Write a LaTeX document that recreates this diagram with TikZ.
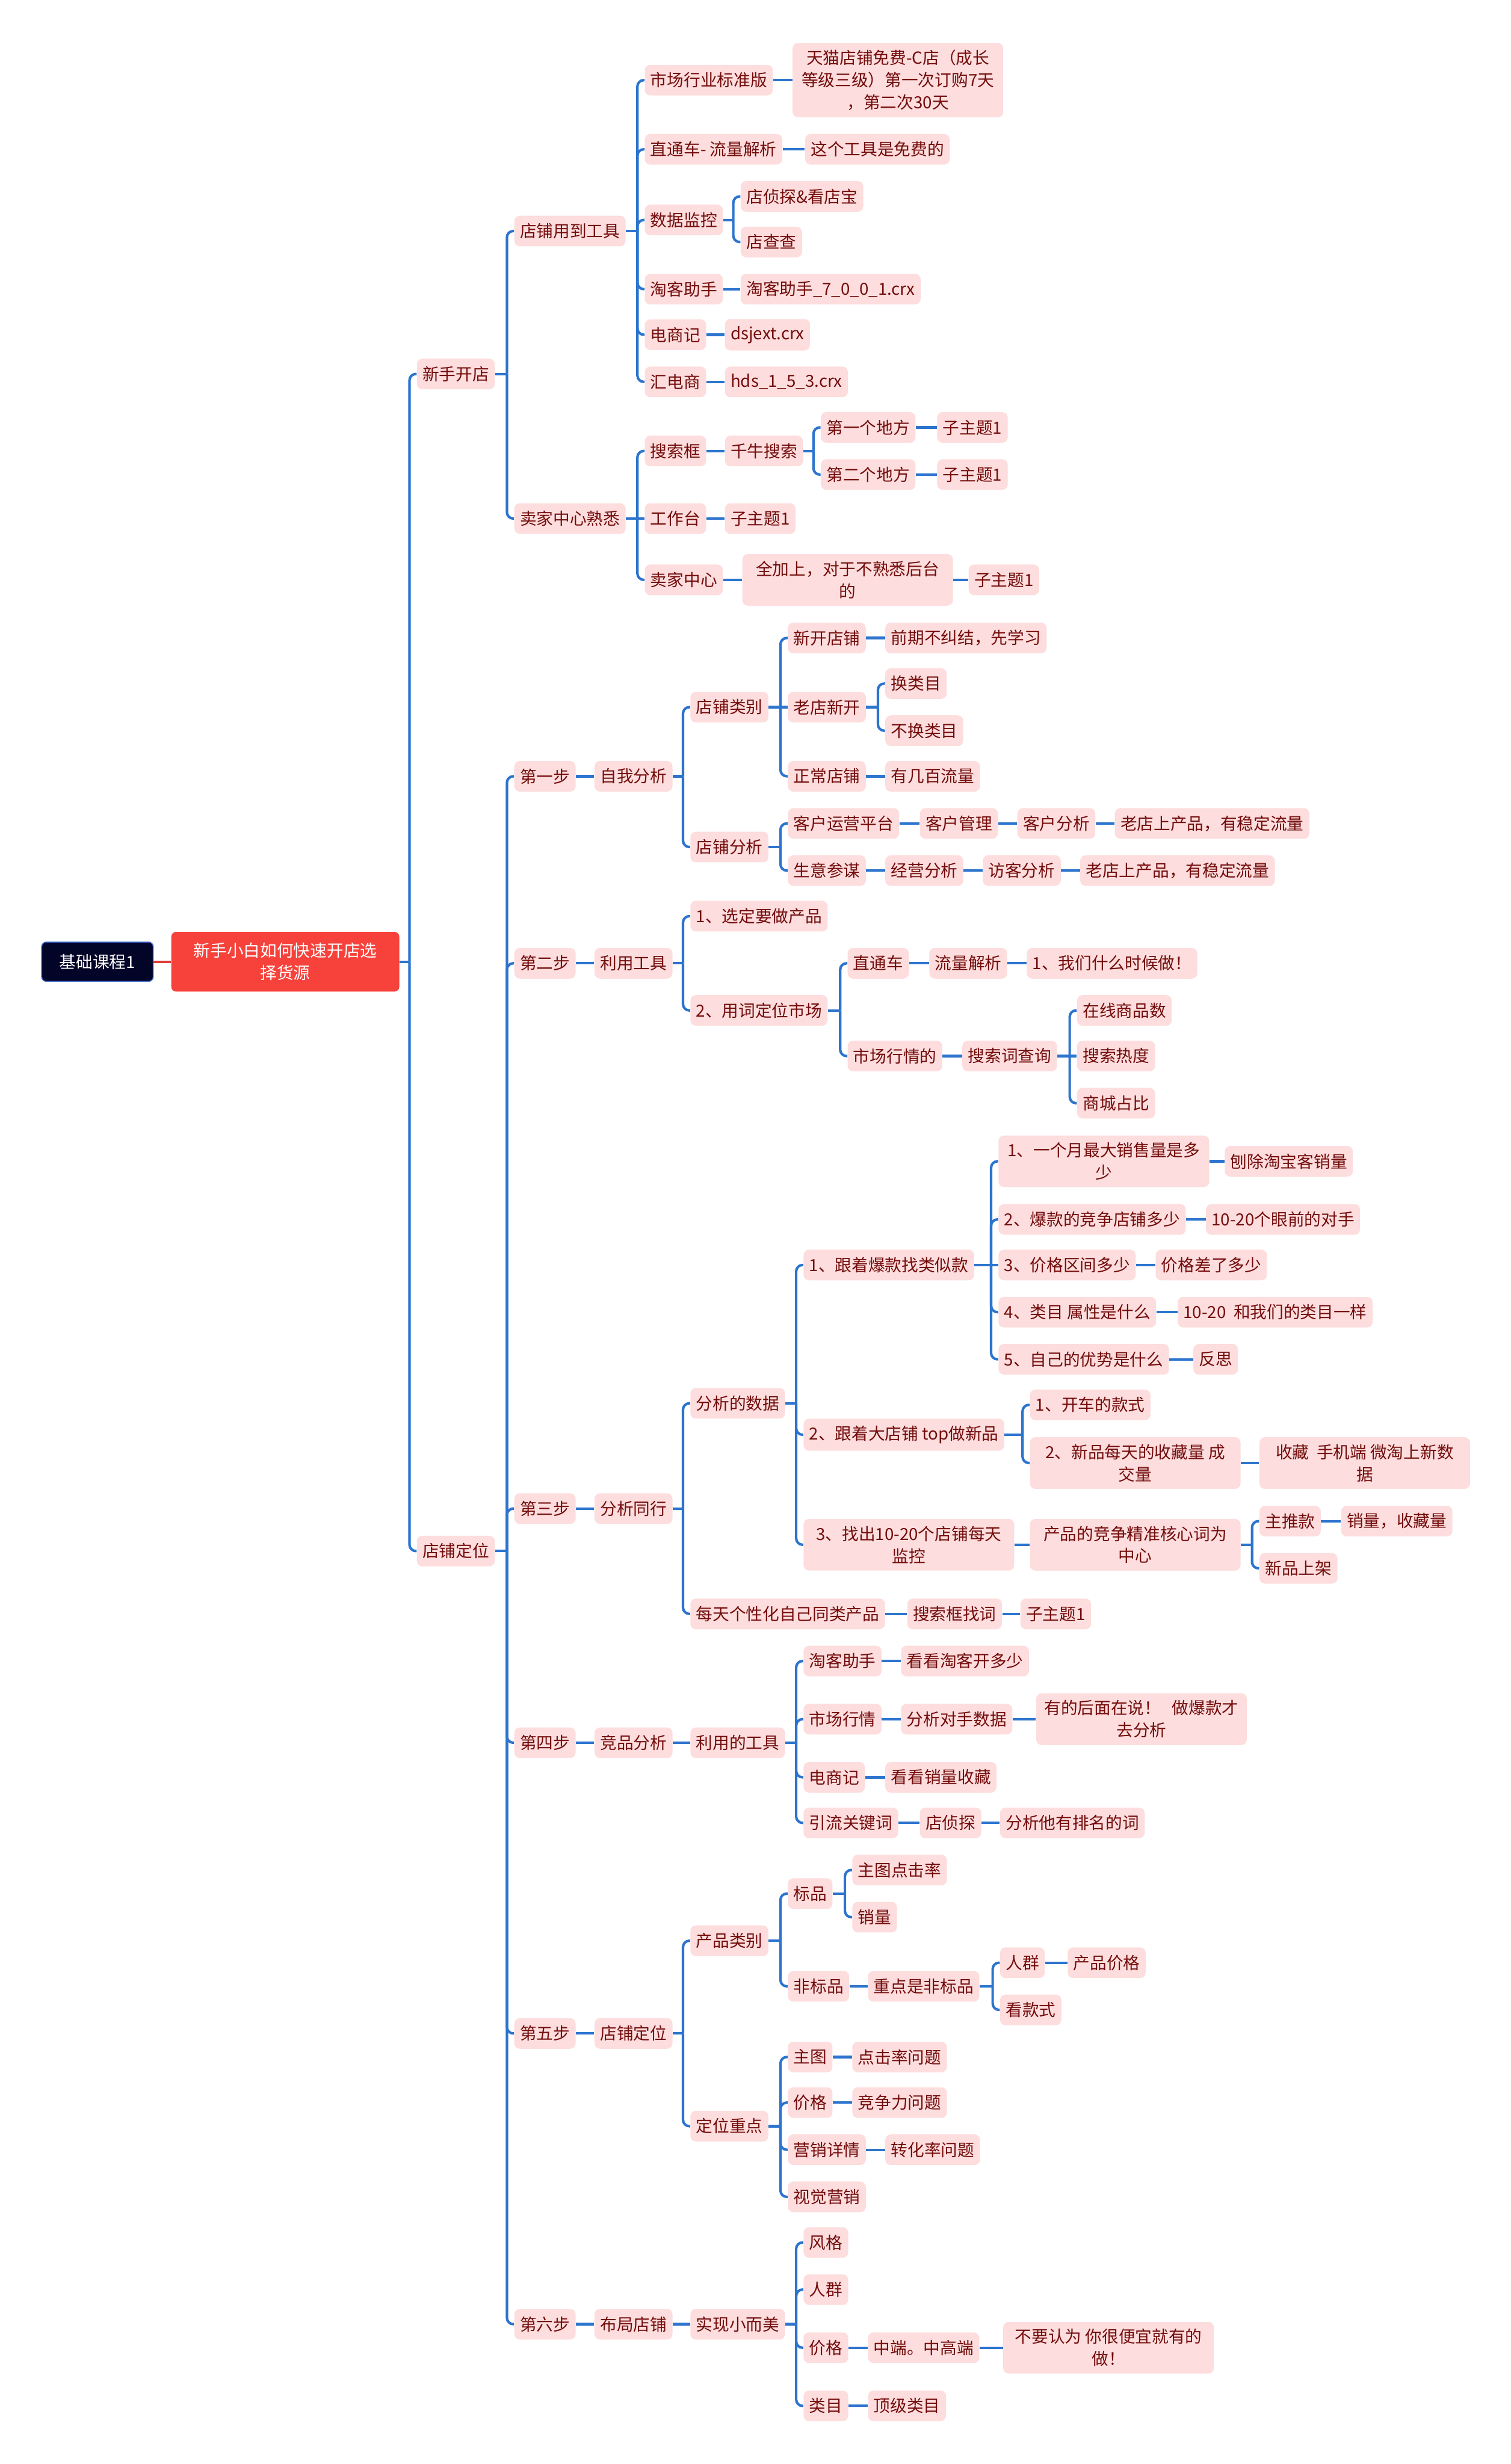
\documentclass[tikz,border=0pt]{standalone}
\usepackage{fontspec}
\setmainfont{Noto Sans CJK SC}
\usetikzlibrary{positioning}
\usetikzlibrary{calc}
\definecolor{topicfill}{RGB}{253,221,221}
\definecolor{topictext}{RGB}{115,12,12}
\definecolor{linkblue}{RGB}{44,116,206}
\definecolor{rootnavy}{RGB}{2,4,40}
\definecolor{rootedge}{RGB}{60,100,200}
\definecolor{mainred}{RGB}{246,66,59}
\tikzstyle{topic}=[fill=topicfill,text=topictext,rounded corners=3.5pt,anchor=west,align=center,inner xsep=3.6pt,inner ysep=4.5pt,minimum height=19.5pt,font=\fontsize{10.6}{14.1}\selectfont]
\tikzstyle{wrapped}=[topic,minimum width=134pt]
\tikzstyle{roottopic}=[fill=rootnavy,draw=rootedge,line width=0.6pt,text=white,rounded corners=3pt,minimum width=71pt,minimum height=25pt,font=\fontsize{10.6}{14.1}\selectfont]
\tikzstyle{maintopic}=[fill=mainred,text=white,rounded corners=3pt,align=center,minimum width=145pt,minimum height=38pt,font=\fontsize{10.6}{14.1}\selectfont]
\tikzstyle{link}=[draw=linkblue,line width=1.6pt]
\tikzstyle{branch}=[link,rounded corners=4pt]

\begin{document}
\begin{tikzpicture}[x=1pt,y=-1pt]

  \useasboundingbox (0,0) rectangle (961,1568);

  \node[roottopic] (root) at (62,612) {基础课程1};
  \node[maintopic] (main) at (181.5,612) {新手小白如何快速开店选\\择货源};
  \draw[draw=mainred!90!black,line width=1.6pt] (root.east) -- (main.west);

  % 新手开店
  \foreach \x/\y/\name/\txt in {265/238/new/新手开店, 265/987/pos/店铺定位,
      327/147/tool/店铺用到工具, 327/330/seller/卖家中心熟悉,
      410/51/mkt/市场行业标准版, 410/95/ztc/直通车- 流量解析, 410/140/dmon/数据监控,
      410/184/tkzs/淘客助手, 410/213/dsj/电商记, 410/243/hds/汇电商,
      512/95/free/这个工具是免费的, 471/125/dzt/店侦探\&看店宝, 471/154/dcc/店查查,
      471/184/tkcrx/淘客助手\_7\_0\_0\_1.crx, 461/213/dsjcrx/dsjext.crx, 461/243/hdscrx/hds\_1\_5\_3.crx,
      410/287/seek/搜索框, 410/330/desk/工作台, 410/369/sc/卖家中心,
      461/287/qn/千牛搜索, 522/272/pa/第一个地方, 522/302/pb/第二个地方,
      596/272/pac/子主题1, 596/302/pbc/子主题1, 461/330/deskc/子主题1,
      616/369/allc/子主题1}
    \node[topic] (\name) at (\x,\y) {\txt};

  % 第一步 / 第二步
  \foreach \x/\y/\name/\txt in {327/494/sa/第一步, 327/613/sb/第二步, 327/960/sc3/第三步,
      327/1109/sd/第四步, 327/1294/se/第五步, 327/1479/sf/第六步,
      378/494/self/自我分析, 439/450/kind/店铺类别, 439/539/ana/店铺分析,
      501/406/newshop/新开店铺, 563/406/learn/前期不纠结，先学习,
      501/450/oldnew/老店新开, 563/435/chg/换类目, 563/465/nochg/不换类目,
      501/494/normal/正常店铺, 563/494/flow/有几百流量,
      501/524/crm/客户运营平台, 585/524/cmgr/客户管理, 647/524/cana/客户分析, 709/524/oldpa/老店上产品，有稳定流量,
      501/554/sycm/生意参谋, 563/554/jyfx/经营分析, 625/554/fkfx/访客分析, 687/554/oldpb/老店上产品，有稳定流量,
      378/613/usetool/利用工具, 439/583/pick/1、选定要做产品, 439/643/word/2、用词定位市场,
      539/613/ztcb/直通车, 591/613/llfx/流量解析, 653/613/when/1、我们什么时候做！,
      539/672/hq/市场行情的, 612/672/sccx/搜索词查询,
      685/643/online/在线商品数, 685/672/hot/搜索热度, 685/702/mall/商城占比}
    \node[topic] (\name) at (\x,\y) {\txt};

  % 第三步 / 第四步
  \foreach \x/\y/\name/\txt in {378/960/peer/分析同行, 439/893/data/分析的数据,
      439/1027/daily/每天个性化自己同类产品, 577/1027/ssk/搜索框找词, 649/1027/dailyc/子主题1,
      511/805/hit/1、跟着爆款找类似款, 511/913/top/2、跟着大店铺 top做新品,
      779/739/aa/刨除淘宝客销量,
      635/776/qb/2、爆款的竞争店铺多少, 767/776/ab/10-20个眼前的对手,
      635/805/qc/3、价格区间多少, 735/805/ac/价格差了多少,
      635/835/qd/4、类目 属性是什么, 749/835/ad/{10-20\ \ 和我们的类目一样},
      635/865/qe/5、自己的优势是什么, 759/865/ae/反思,
      655/894/car/1、开车的款式,
      801/968/push/主推款, 853/968/sales/销量，收藏量, 801/998/newon/新品上架,
      378/1109/comp/竞品分析, 439/1109/toolb/利用的工具,
      511/1057/tk/淘客助手, 573/1057/tkc/看看淘客开多少,
      511/1094/hqb/市场行情, 573/1094/dsfx/分析对手数据,
      511/1131/dsjb/电商记, 563/1131/dsjc/看看销量收藏,
      511/1160/ylk/引流关键词, 585/1160/dztb/店侦探, 636/1160/rank/分析他有排名的词}
    \node[topic] (\name) at (\x,\y) {\txt};

  % 第五步 / 第六步
  \foreach \x/\y/\name/\txt in {378/1294/spos/店铺定位, 439/1235/pcat/产品类别, 439/1353/focus/定位重点,
      501/1205/std/标品, 542/1190/ctr/主图点击率, 542/1220/sale/销量,
      501/1264/nstd/非标品, 552/1264/keyn/重点是非标品,
      636/1249/crowd/人群, 679/1249/price/产品价格, 636/1279/style/看款式,
      501/1309/mainpic/主图, 542/1309/ctrq/点击率问题,
      501/1338/pr/价格, 542/1338/compq/竞争力问题,
      501/1368/mkd/营销详情, 563/1368/convq/转化率问题,
      501/1398/visual/视觉营销,
      378/1479/layout/布局店铺, 439/1479/small/实现小而美,
      511/1427/fg/风格, 511/1457/rq/人群,
      511/1494/jg/价格, 552/1494/mid/中端。中高端,
      511/1531/lm/类目, 552/1531/toplm/顶级类目}
    \node[topic] (\name) at (\x,\y) {\txt};

  % long texts, wrapped to a fixed width
  \foreach \x/\y/\name/\txt in {504/51/tmall/{天猫店铺免费-C店（成长\\等级三级）第一次订购7天\\，第二次30天},
      472/369/allon/{全加上，对于不熟悉后台\\的},
      511/983/watch/{3、找出10-20个店铺每天\\监控},
      635/739/qa/{1、一个月最大销售量是多\\少},
      655/931/fav/{2、新品每天的收藏量 成\\交量},
      801/931/favc/{收藏\ \ 手机端 微淘上新数\\据},
      655/983/core/{产品的竞争精准核心词为\\中心},
      659/1094/later/{有的后面在说！\ \ \ 做爆款才\\去分析},
      638/1494/dont/{不要认为 你很便宜就有的\\做！}}
    \node[wrapped] (\name) at (\x,\y) {\txt};

  % straight links
  \foreach \p/\c in {mkt/tmall, ztc/free, tkzs/tkcrx, dsj/dsjcrx, hds/hdscrx,
      seek/qn, desk/deskc, sc/allon, allon/allc, pa/pac, pb/pbc, seller/desk,
      sa/self, kind/oldnew, newshop/learn, normal/flow,
      crm/cmgr, cmgr/cana, cana/oldpa, sycm/jyfx, jyfx/fkfx, fkfx/oldpb,
      sb/usetool, ztcb/llfx, llfx/when, hq/sccx, sccx/hot,
      sc3/peer, daily/ssk, ssk/dailyc, hit/qc,
      qa/aa, qb/ab, qc/ac, qd/ad, qe/ae, fav/favc, watch/core, push/sales,
      sd/comp, comp/toolb, tk/tkc, hqb/dsfx, dsfx/later, dsjb/dsjc, ylk/dztb, dztb/rank,
      se/spos, nstd/keyn, crowd/price, mainpic/ctrq, pr/compq, mkd/convq,
      sf/layout, layout/small, jg/mid, mid/dont, lm/toplm}
    \draw[link] (\p.east) -- (\c.west);

  % branch links
  \foreach \p/\c in {main/new, main/pos, new/tool, new/seller,
      tool/mkt, tool/ztc, tool/dmon, tool/tkzs, tool/dsj, tool/hds, dmon/dzt, dmon/dcc,
      seller/seek, seller/sc, qn/pa, qn/pb,
      pos/sa, pos/sb, pos/sc3, pos/sd, pos/se, pos/sf,
      self/kind, self/ana, kind/newshop, kind/normal, oldnew/chg, oldnew/nochg, ana/crm, ana/sycm,
      usetool/pick, usetool/word, word/ztcb, word/hq, sccx/online, sccx/mall,
      peer/data, peer/daily, data/hit, data/top, data/watch,
      hit/qa, hit/qb, hit/qd, hit/qe, top/car, top/fav, core/push, core/newon,
      toolb/tk, toolb/hqb, toolb/dsjb, toolb/ylk,
      spos/pcat, spos/focus, pcat/std, pcat/nstd, std/ctr, std/sale, keyn/crowd, keyn/style,
      focus/mainpic, focus/pr, focus/mkd, focus/visual,
      small/fg, small/rq, small/jg, small/lm}
    {
    \draw[link] (\p.east) -- ([xshift=-4.5pt]\c.west |- \p.east);
    \draw[branch] ([xshift=-4.5pt]\c.west |- \p.east) |- (\c.west);
    }

\end{tikzpicture}
\end{document}
